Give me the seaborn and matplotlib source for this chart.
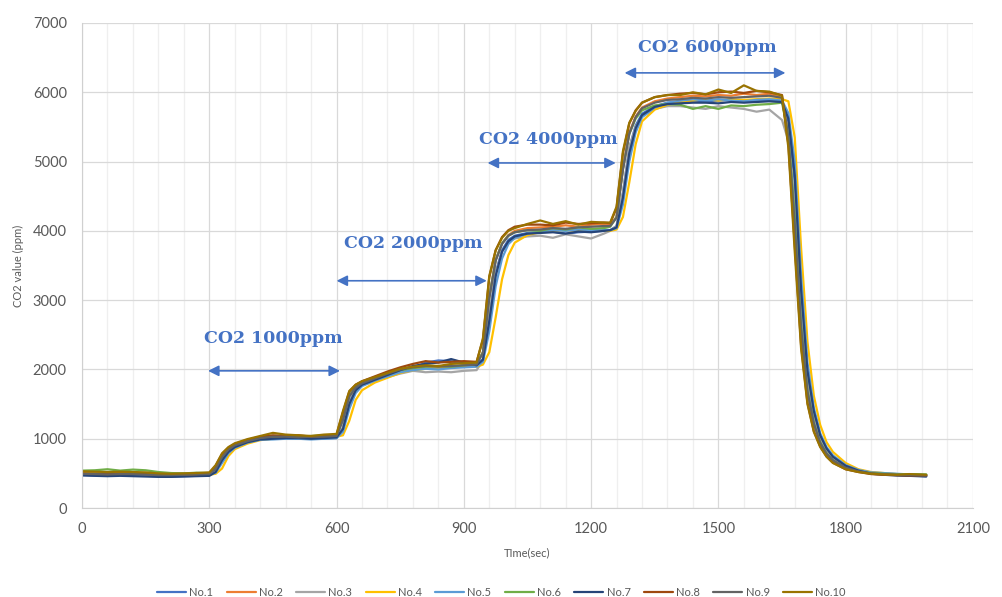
import pandas as pd
import seaborn as sns
import matplotlib.pyplot as plt
from matplotlib.ticker import MultipleLocator

# time axis (sec), denser around the step changes
time_sec = [0, 30, 60, 90, 120, 150, 180, 210, 240, 270,
            300, 315, 330, 345, 360, 390, 420,
            450, 480, 510, 540, 570,
            600, 615, 630, 645, 660, 690, 720, 750,
            780, 810, 840, 870, 900,
            930, 945, 960, 975, 990, 1005, 1020, 1050,
            1080, 1110, 1140, 1170, 1200, 1230,
            1245, 1260, 1275, 1290, 1305, 1320, 1350, 1380,
            1410, 1440, 1470, 1500, 1530, 1560, 1590, 1620,
            1650, 1665, 1680, 1695, 1710, 1725, 1740, 1755, 1770, 1800, 1830,
            1860, 1890, 1920, 1950, 1990]

no1 = [480, 470, 475, 480, 470, 465, 460, 455, 460, 465,
       470, 530, 700, 820, 890, 950, 990,
       1000, 1010, 1000, 1010, 1000,
       1010, 1160, 1530, 1710, 1790, 1850, 1910, 1970,
       2020, 2100, 2130, 2120, 2080,
       2050, 2150, 2750, 3400, 3720, 3870, 3930, 3970,
       3980, 3990, 3960, 3980, 3990, 4000,
       4010, 4070, 4550, 5200, 5520, 5690, 5800, 5850,
       5860, 5880, 5870, 5880, 5890, 5870, 5880, 5890,
       5860, 5580, 4700, 3050, 1900, 1360, 1030, 840, 730, 600, 540,
       500, 490, 475, 470, 460]
no2 = [510, 505, 500, 510, 505, 495, 490, 485, 490, 495,
       500, 570, 740, 850, 910, 970, 1020,
       1040, 1030, 1040, 1030, 1040,
       1050, 1280, 1620, 1750, 1810, 1870, 1930, 1990,
       2020, 2040, 2050, 2040, 2050,
       2080, 2250, 3050, 3580, 3820, 3940, 4000, 4040,
       4050, 4060, 4080, 4060, 4090, 4100,
       4090, 4200, 4900, 5420, 5650, 5780, 5870, 5910,
       5930, 5950, 5940, 5960, 5950, 5980, 5960, 5980,
       5920, 5400, 4200, 2650, 1700, 1230, 950, 790, 690, 580, 530,
       510, 495, 480, 475, 470]
no3 = [520, 515, 510, 505, 500, 495, 490, 495, 500, 505,
       490, 530, 700, 820, 890, 960, 1000,
       1020, 1010, 1020, 1000, 1010,
       1010, 1160, 1530, 1700, 1770, 1830, 1890, 1940,
       1980, 1960, 1970, 1960, 1980,
       1990, 2130, 2750, 3380, 3700, 3840, 3890, 3920,
       3930, 3900, 3950, 3920, 3890, 3960,
       4000, 4070, 4550, 5200, 5500, 5650, 5760, 5800,
       5800, 5780, 5760, 5800, 5780, 5760, 5720, 5750,
       5600, 5300, 4400, 2850, 1800, 1300, 1000, 830, 720, 600, 540,
       510, 500, 490, 480, 470]
no4 = [500, 495, 500, 510, 500, 490, 485, 480, 485, 490,
       480, 495, 570, 750, 850, 930, 980,
       1000, 1020, 1030, 1030, 1040,
       1030, 1050, 1260, 1560, 1700, 1810, 1880, 1950,
       1990, 2010, 2020, 2030, 2050,
       2040, 2070, 2250, 2750, 3300, 3650, 3830, 3940,
       3980, 4000, 4010, 4000, 4020, 4010,
       4000, 4020, 4200, 4700, 5250, 5580, 5750, 5820,
       5860, 5880, 5900, 5880, 5900, 5890, 5900, 5910,
       5900, 5870, 5350, 3750, 2400, 1620, 1200, 950, 810, 650, 560,
       520, 505, 490, 480, 475]
no5 = [490, 485, 480, 490, 485, 480, 475, 480, 490, 500,
       480, 510, 650, 790, 870, 945, 985,
       990, 1000, 1000, 990, 1000,
       1010, 1100, 1430, 1660, 1760, 1840, 1900, 1960,
       1990, 2010, 2000, 2020, 2030,
       2040, 2110, 2550, 3200, 3600, 3810, 3900, 3960,
       3990, 4010, 4000, 4020, 4010, 4020,
       4010, 4040, 4380, 5000, 5420, 5640, 5780, 5850,
       5880, 5900, 5880, 5900, 5880, 5870, 5890, 5900,
       5880, 5700, 5000, 3350, 2100, 1450, 1080, 880, 760, 620, 550,
       515, 505, 495, 485, 480]
no6 = [540, 545, 560, 540, 555, 545, 520, 505, 500, 510,
       505, 570, 740, 850, 910, 975, 1015,
       1030, 1040, 1030, 1040, 1050,
       1050, 1280, 1620, 1750, 1810, 1870, 1930, 1990,
       2020, 2040, 2050, 2040, 2060,
       2080, 2250, 3050, 3580, 3820, 3930, 3980, 4010,
       4000, 4040, 4020, 4050, 4030, 4040,
       4060, 4200, 4900, 5400, 5620, 5740, 5810, 5830,
       5820, 5760, 5800, 5760, 5810, 5800, 5820, 5830,
       5850, 5400, 4200, 2650, 1700, 1230, 950, 790, 690, 580, 530,
       505, 495, 485, 490, 485]
no7 = [470, 465, 460, 465, 460, 455, 450, 450, 455, 460,
       465, 520, 690, 810, 880, 950, 990,
       1000, 1010, 1010, 1000, 1010,
       1020, 1140, 1500, 1700, 1780, 1850, 1920, 1990,
       2050, 2080, 2100, 2150, 2100,
       2060, 2140, 2700, 3350, 3700, 3850, 3920, 3960,
       3970, 3980, 3960, 3990, 3980, 4000,
       4010, 4050, 4480, 5120, 5480, 5670, 5790, 5830,
       5840, 5850, 5850, 5840, 5860, 5850, 5860, 5870,
       5860, 5620, 4800, 3150, 1980, 1400, 1050, 860, 740, 610, 540,
       495, 480, 470, 465, 455]
no8 = [500, 495, 490, 500, 495, 490, 480, 480, 485, 490,
       500, 610, 780, 870, 925, 985, 1030,
       1050, 1040, 1050, 1030, 1040,
       1060, 1380, 1680, 1780, 1830, 1900, 1970, 2030,
       2080, 2120, 2100, 2110, 2120,
       2110, 2430, 3330, 3720, 3910, 4010, 4060, 4090,
       4090, 4080, 4120, 4100, 4110, 4120,
       4110, 4330, 5120, 5550, 5740, 5850, 5930, 5960,
       5980, 5990, 5970, 6000, 6010, 5990, 6020, 6000,
       5960, 5250, 3800, 2350, 1520, 1110, 890, 745, 655, 560, 520,
       490, 480, 475, 470, 470]
no9 = [495, 490, 485, 490, 490, 485, 475, 475, 480, 485,
       490, 565, 735, 845, 905, 965, 1010,
       1030, 1030, 1020, 1030, 1030,
       1040, 1270, 1610, 1740, 1800, 1870, 1940, 2000,
       2030, 2050, 2040, 2050, 2060,
       2070, 2240, 3030, 3570, 3810, 3930, 3980, 4010,
       4020, 4040, 4030, 4050, 4060, 4070,
       4070, 4190, 4880, 5400, 5640, 5770, 5850, 5890,
       5900, 5920, 5910, 5930, 5920, 5930, 5940, 5950,
       5920, 5350, 4100, 2600, 1680, 1220, 940, 785, 690, 580, 530,
       500, 490, 480, 475, 470]
no10 = [530, 525, 520, 525, 520, 515, 500, 495, 500, 505,
        515, 620, 790, 880, 935, 995, 1040,
        1085, 1060, 1050, 1040, 1060,
        1070, 1400, 1690, 1780, 1830, 1890, 1950, 2010,
        2040, 2060, 2050, 2080, 2090,
        2100, 2450, 3350, 3720, 3900, 4000, 4040, 4100,
        4150, 4100, 4140, 4090, 4130, 4120,
        4120, 4350, 5150, 5560, 5730, 5850, 5930, 5960,
        5960, 6000, 5970, 6040, 5990, 6100, 6020, 6010,
        5950, 5200, 3700, 2300, 1500, 1100, 880, 740, 650, 560, 520,
        495, 485, 480, 490, 480]

series_names = ['No.1', 'No.2', 'No.3', 'No.4', 'No.5',
                'No.6', 'No.7', 'No.8', 'No.9', 'No.10']
series_values = [no1, no2, no3, no4, no5, no6, no7, no8, no9, no10]
colors = ['#4472C4', '#ED7D31', '#A5A5A5', '#FFC000', '#5B9BD5',
          '#70AD47', '#264478', '#9E480E', '#636363', '#997300']

# step labels
step_labels = ['CO2 1000ppm', 'CO2 2000ppm', 'CO2 4000ppm', 'CO2 6000ppm']

frames = []
for name, vals in zip(series_names, series_values):
    frames.append(pd.DataFrame({'Time': time_sec, 'CO2': vals, 'Sensor': name}))
df = pd.concat(frames, ignore_index=True)

sns.set_style('white')
plt.rcParams['font.family'] = ['Lato', 'DejaVu Sans']

fig, ax = plt.subplots(figsize=(10.03, 5.97), dpi=100)
fig.subplots_adjust(left=0.0818, right=0.970, top=0.9615, bottom=0.149)

sns.lineplot(data=df, x='Time', y='CO2', hue='Sensor', hue_order=series_names,
             palette=colors, linewidth=1.6, sort=False, estimator=None, ax=ax)

ax.set_xlim(0, 2100)
ax.set_ylim(0, 7000)
ax.xaxis.set_major_locator(MultipleLocator(300))
ax.xaxis.set_minor_locator(MultipleLocator(60))
ax.yaxis.set_major_locator(MultipleLocator(1000))
ax.grid(which='major', color='#D9D9D9', linewidth=0.9)
ax.grid(which='minor', axis='x', color='#EFEFEF', linewidth=0.9)
ax.set_axisbelow(True)
for side in ['top', 'right']:
    ax.spines[side].set_visible(False)
for side in ['left', 'bottom']:
    ax.spines[side].set_color('#D0D0D0')
ax.tick_params(axis='both', which='both', length=0, labelsize=10.5, colors='#595959')
ax.tick_params(axis='x', pad=10)
ax.tick_params(axis='y', pad=11)
ax.set_xlabel('TIme(sec)', fontsize=8, color='#595959', labelpad=8)
ax.set_ylabel('CO2 value (ppm)', fontsize=8, color='#595959', labelpad=6)

# annotations with double arrows
ann = [(452, 2450, 297, 608, 1980),
       (780, 3820, 600, 954, 3280),
       (1098, 5320, 956, 1258, 4980),
       (1475, 6650, 1279, 1658, 6280)]
for lab, (tx, ty, x0, x1, ya) in zip(step_labels, ann):
    ax.text(tx, ty, lab, ha='center', va='center', fontsize=12.5, fontweight='bold',
            color='#4472C4', family=['DejaVu Serif'])
    ax.annotate('', xy=(x1, ya), xytext=(x0, ya),
                arrowprops=dict(arrowstyle='<|-|>', color='#4472C4', lw=1.2,
                                mutation_scale=16, shrinkA=0, shrinkB=0))

handles, labels = ax.get_legend_handles_labels()
ax.get_legend().remove()
fig.legend(handles, labels, loc='lower center', bbox_to_anchor=(0.5, -0.018), ncol=10,
           frameon=False, fontsize=8, handlelength=2.6, columnspacing=1.2,
           labelcolor='#595959', handletextpad=0.3)

plt.savefig('out.png', dpi=100)
